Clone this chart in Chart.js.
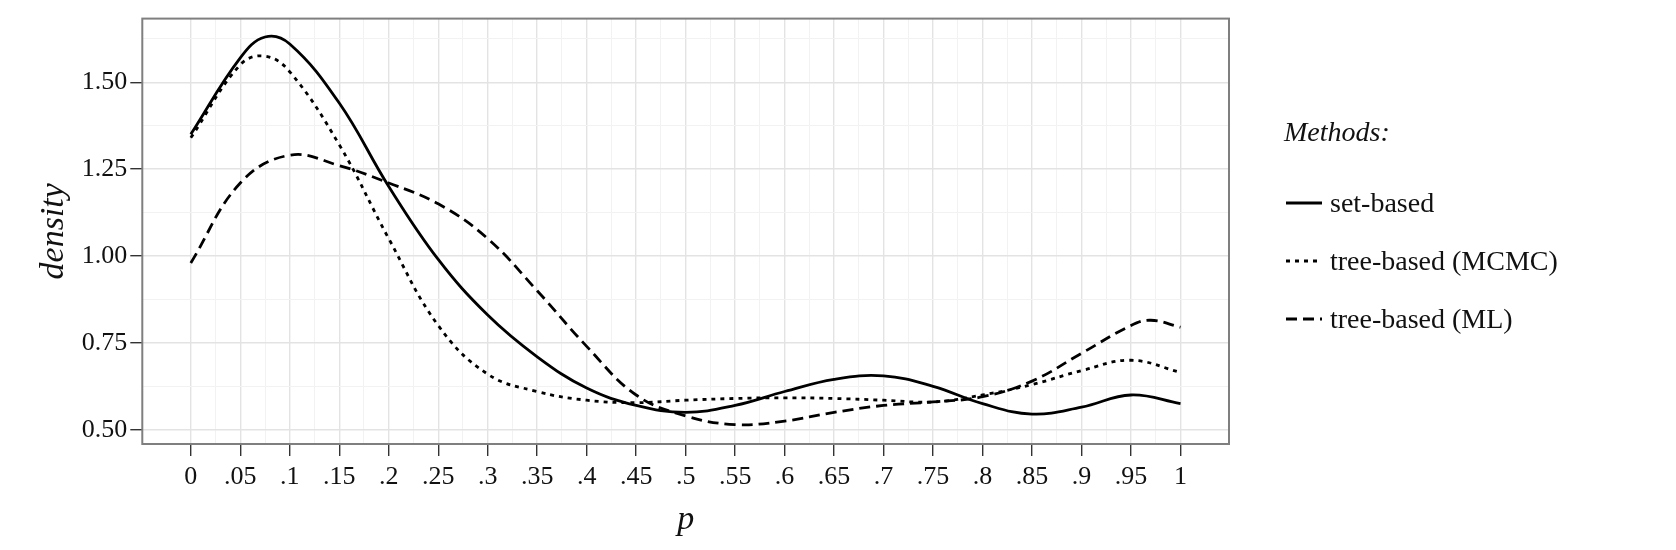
<!DOCTYPE html>
<html><head><meta charset="utf-8">
<script src="https://cdn.jsdelivr.net/npm/chart.js@4/dist/chart.umd.min.js"></script>
<style>
body{margin:0;background:#fff;font-family:"Liberation Serif",serif}
#wrap{position:relative;width:1676px;height:550px}
#legend{position:absolute;left:1284px;top:116px;font-size:28px;color:#111}
#legend .t{font-style:italic;margin-bottom:26px}
#legend .row{display:flex;align-items:center;height:58px}
#legend svg{margin-right:6px}
</style></head><body>
<div id="wrap"><canvas id="c" width="1676" height="550"></canvas>
<div id="legend">
<div class="t">Methods:</div>
<div class="row"><svg width="40" height="10"><line x1="2" y1="5" x2="38" y2="5" stroke="#000" stroke-width="3"/></svg>set-based</div>
<div class="row"><svg width="40" height="10"><line x1="2" y1="5" x2="38" y2="5" stroke="#000" stroke-width="3" stroke-dasharray="4 5"/></svg>tree-based (MCMC)</div>
<div class="row"><svg width="40" height="10"><line x1="2" y1="5" x2="38" y2="5" stroke="#000" stroke-width="3" stroke-dasharray="11 6"/></svg>tree-based (ML)</div>
</div></div>
<script>
const pSet = [0,.05,.075,.1,.15,.2,.25,.3,.35,.4,.45,.5,.55,.6,.65,.7,.75,.8,.85,.9,.95,1];
const setBased = [1.35,1.57,1.63,1.61,1.44,1.2,0.99,0.83,0.71,0.62,0.57,0.55,0.57,0.61,0.645,0.655,0.625,0.575,0.545,0.565,0.6,0.575];
const pMcmc = [0,.05,.075,.1,.15,.2,.25,.3,.35,.4,.45,.5,.55,.6,.65,.7,.75,.8,.85,.9,.95,1];
const treeMcmc = [1.34,1.55,1.575,1.53,1.32,1.05,0.8,0.66,0.61,0.585,0.578,0.585,0.59,0.592,0.59,0.585,0.58,0.6,0.63,0.67,0.70,0.665];
const pMl = [0,.05,.1,.15,.2,.25,.3,.35,.4,.45,.5,.55,.6,.65,.7,.75,.8,.85,.9,.95,.97,1];
const treeMl = [0.98,1.21,1.29,1.26,1.21,1.15,1.05,0.9,0.74,0.6,0.54,0.515,0.525,0.55,0.57,0.58,0.595,0.64,0.72,0.80,0.815,0.795];
const yMajor = [0.5,0.75,1.0,1.25,1.5];

const pts = (xs, ys) => xs.map((x, i) => ({x, y: ys[i]}));
const ds = (label, xs, ys, dash) => ({label, data: pts(xs, ys), borderColor: "#000", borderWidth: 2.8,
  borderDash: dash, pointRadius: 0, tension: 0.4, fill: false});
const isMajorX = v => Math.abs(Math.round(v * 20) - v * 20) < 1e-6;
const isMajorY = v => yMajor.some(m => Math.abs(m - v) < 1e-6);
const fmtX = v => { const r = Math.round(v * 100) / 100; return r === 0 ? "0" : r === 1 ? "1" : String(r).replace(/^0/, ""); };

const border = {
  id: "border",
  afterDraw(chart) {
    const a = chart.chartArea, c = chart.ctx;
    c.save(); c.strokeStyle = "#7f7f7f"; c.lineWidth = 2;
    c.strokeRect(a.left, a.top, a.right - a.left, a.bottom - a.top); c.restore();
  }
};

new Chart(document.getElementById("c"), {
  type: "line",
  data: {datasets: [
    ds("set-based", pSet, setBased, []),
    ds("tree-based (MCMC)", pMcmc, treeMcmc, [4, 5]),
    ds("tree-based (ML)", pMl, treeMl, [11, 6])
  ]},
  options: {
    responsive: false, animation: false,
    layout: {padding: {left: 30, right: 447, top: 0, bottom: 6}},
    plugins: {legend: {display: false}, tooltip: {enabled: false}},
    scales: {
      x: {type: "linear", min: -0.049, max: 1.049,
        afterBuildTicks: ax => { const t = []; for (let i = 0; i <= 40; i++) t.push({value: i * 0.025}); ax.ticks = t; },
        ticks: {autoSkip: false, maxRotation: 0, color: "#111", font: {family: "Liberation Serif", size: 26}, padding: 6,
          callback: v => isMajorX(v) ? fmtX(v) : ""},
        grid: {color: c => c.tick && isMajorX(c.tick.value) ? "#e3e3e3" : "#f2f2f2", lineWidth: c => c.tick && isMajorX(c.tick.value) ? 1.4 : 1,
          tickColor: c => c.tick && isMajorX(c.tick.value) ? "#333" : "rgba(0,0,0,0)", tickLength: 12},
        border: {display: false},
        title: {display: true, text: "p", font: {family: "Liberation Serif", size: 34, style: "italic"}, color: "#111", padding: {top: 0}}
      },
      y: {min: 0.459, max: 1.683,
        afterBuildTicks: ax => { const t = []; for (let i = 0; i <= 9; i++) t.push({value: 0.5 + i * 0.125}); ax.ticks = t; },
        ticks: {autoSkip: false, color: "#111", font: {family: "Liberation Serif", size: 26},
          callback: v => isMajorY(v) ? v.toFixed(2) : ""},
        grid: {color: c => c.tick && isMajorY(c.tick.value) ? "#e3e3e3" : "#f2f2f2", lineWidth: c => c.tick && isMajorY(c.tick.value) ? 1.4 : 1,
          tickColor: c => c.tick && isMajorY(c.tick.value) ? "#333" : "rgba(0,0,0,0)", tickLength: 12},
        border: {display: false},
        title: {display: true, text: "density", font: {family: "Liberation Serif", size: 34, style: "italic"}, color: "#111"}
      }
    }
  },
  plugins: [border]
});
</script></body></html>
